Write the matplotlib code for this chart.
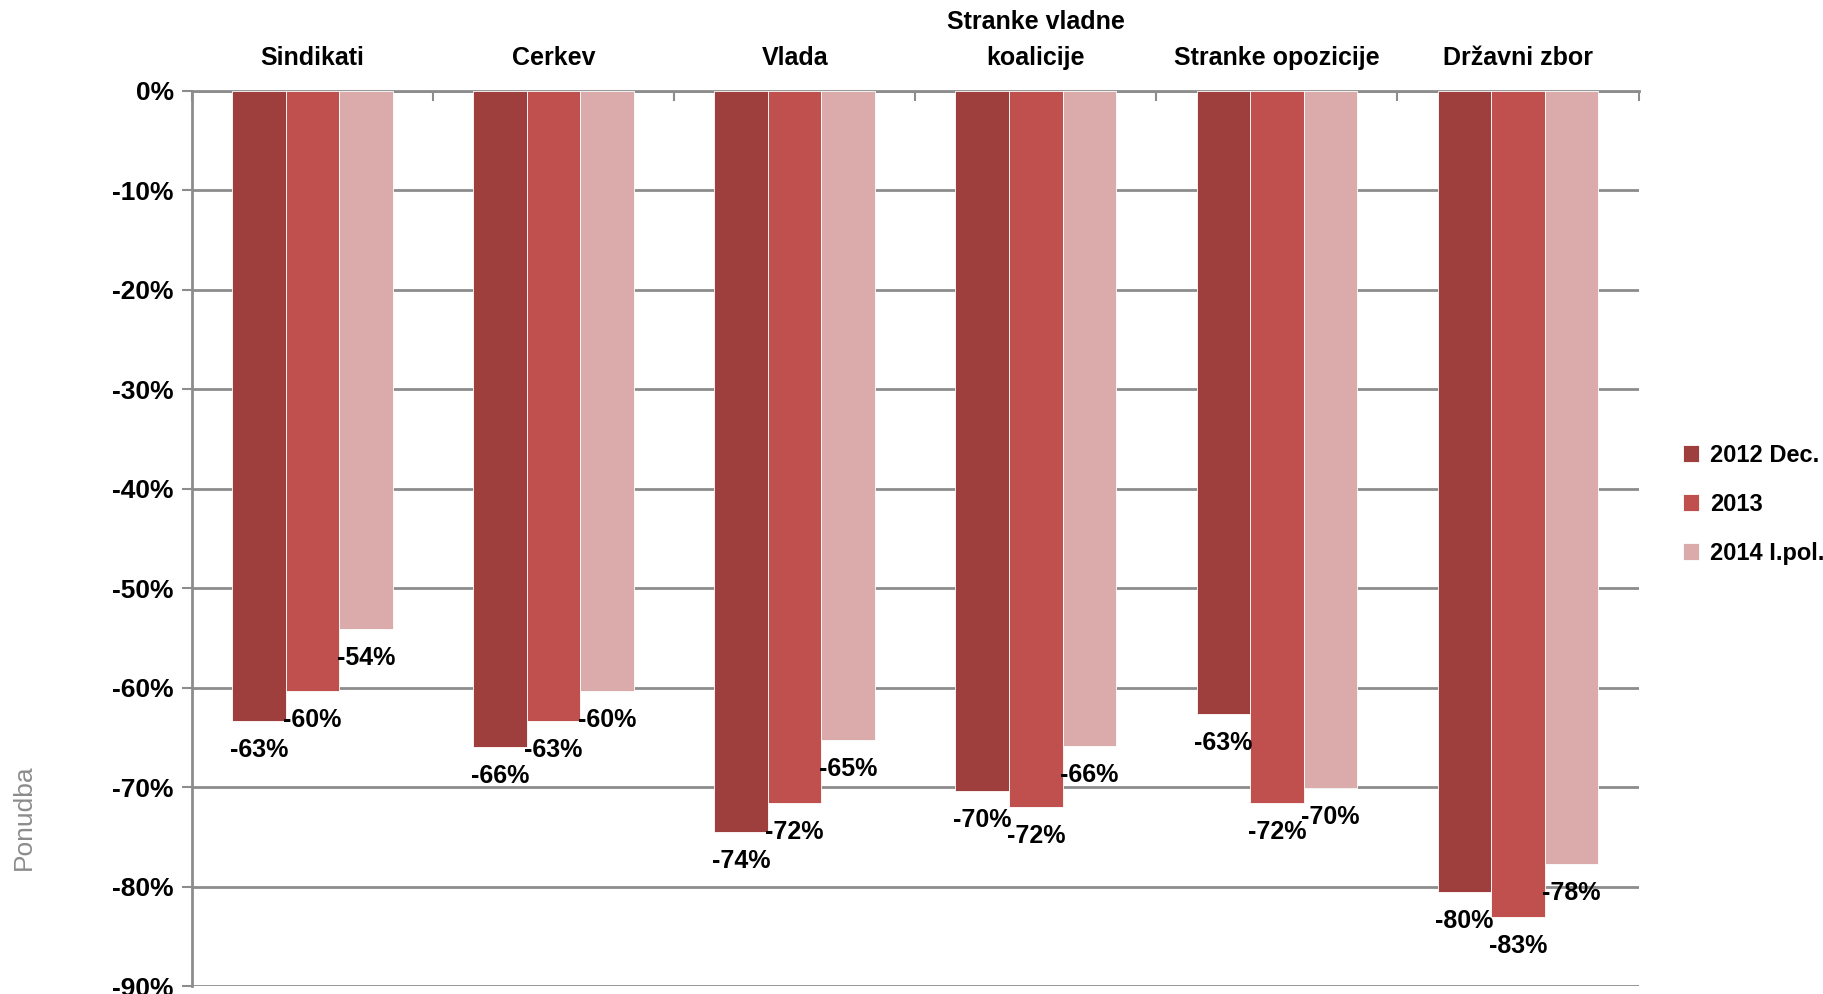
import numpy as np
import matplotlib
matplotlib.use("Agg")
from matplotlib import pyplot as plt
from matplotlib import font_manager

categories = ["Sindikati", "Cerkev", "Vlada", "Stranke vladne\nkoalicije",
              "Stranke opozicije", "Državni zbor"]
series_names = ["2012 Dec.", "2013", "2014 I.pol."]
v2012 = [-63.3, -66.0, -74.5, -70.4, -62.6, -80.5]
v2013 = [-60.3, -63.3, -71.6, -72.0, -71.6, -83.1]
v2014 = [-54.1, -60.3, -65.3, -65.9, -70.1, -77.7]
yticks = [0, -10, -20, -30, -40, -50, -60, -70, -80, -90]
colors = ["#9E3E3D", "#C0504D", "#DBAAAA"]

names = {f.name for f in font_manager.fontManager.ttflist}
fam = [f for f in ["Liberation Sans Narrow", "Liberation Sans", "DejaVu Sans"] if f in names]
plt.rcParams['font.family'] = fam

fig = plt.figure(figsize=(18.23, 9.94), dpi=100)
ax = fig.add_axes([0.1053, 0.008, 0.7935, 0.9005])

x = np.arange(len(categories))
w = 0.222
for i, (vals, name) in enumerate(zip([v2012, v2013, v2014], series_names)):
    pos = x + (i - 1) * w
    ax.bar(pos, vals, w, color=colors[i], label=name, zorder=3,
           edgecolor="white", linewidth=0.6)
    for px, v in zip(pos, vals):
        ax.annotate("%d%%" % round(v), (px, v), xytext=(0, -29),
                    textcoords="offset pixels", ha="center", va="center",
                    fontsize=18, fontweight="bold", zorder=4)

ax.set_xlim(-0.5, len(categories) - 0.5)
ax.set_ylim(-90, 0)
ax.set_yticks(yticks)
ax.set_yticklabels(["%d%%" % t for t in yticks], fontsize=19, fontweight="bold")
ax.yaxis.grid(True, color="#8C8C8C", linewidth=2, zorder=0)
ax.tick_params(axis="y", direction="out", length=7, width=1.5, color="#8C8C8C", pad=6)

ax.xaxis.tick_top()
ax.set_xticks(x)
ax.set_xticklabels(categories, fontsize=18, fontweight="bold", linespacing=1.65)
ax.tick_params(axis="x", which="major", length=0, pad=15)
ax.set_xticks(np.arange(len(categories) + 1) - 0.5, minor=True)
ax.tick_params(axis="x", which="minor", direction="in", length=7, width=1.5,
               color="#8C8C8C", top=True, bottom=False)

for s in ["right", "bottom"]:
    ax.spines[s].set_visible(False)
for s in ["left", "top"]:
    ax.spines[s].set_color("#8C8C8C")
    ax.spines[s].set_linewidth(2)

ax.legend(loc="center left", bbox_to_anchor=(1.024, 0.538), frameon=False,
          prop={"size": 17, "weight": "bold"}, handlelength=0.7, handleheight=0.7,
          handletextpad=0.45, labelspacing=1.1, borderaxespad=0)

fig.text(0.013, 0.178, "Ponudba", rotation=90, ha="center", va="center",
         fontsize=19, color="#8C8C8C", family=["Liberation Sans", "DejaVu Sans"])

fig.savefig("out.png", dpi=100)
